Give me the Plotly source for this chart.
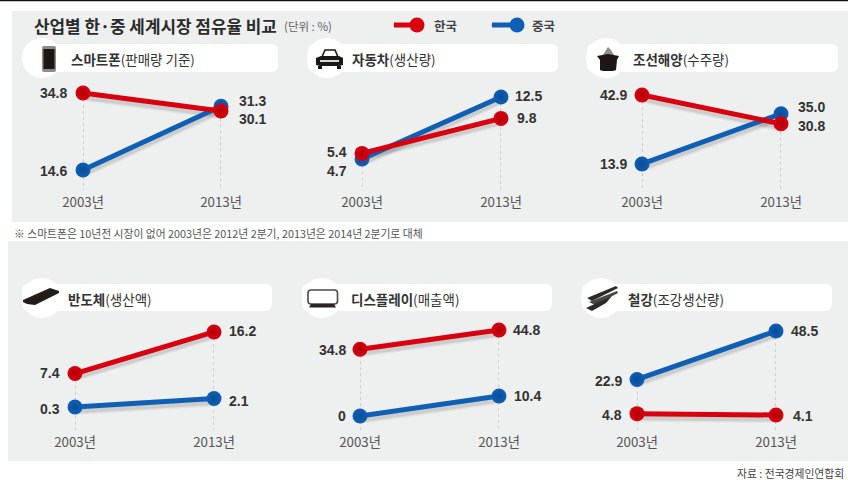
import plotly.graph_objects as go

W, H = 848, 480
FONT = "Noto Sans CJK KR"
LABEL_FONT = "Liberation Sans"
RED, BLUE = "#d9000f", "#0f5fb5"
RED_EDGE, BLUE_EDGE = "#b00008", "#0a4c98"

# ---------- data ----------
years = ["2003년", "2013년"]
panel_titles = ["스마트폰", "자동차", "조선해양", "반도체", "디스플레이", "철강"]
panel_notes = ["(판매량 기준)", "(생산량)", "(수주량)", "(생산액)", "(매출액)", "(조강생산량)"]
korea = [[34.8, 30.1], [5.4, 9.8], [42.9, 30.8], [7.4, 16.2], [34.8, 44.8], [4.8, 4.1]]
china = [[14.6, 31.3], [4.7, 12.5], [13.9, 35.0], [0.3, 2.1], [0.0, 10.4], [22.9, 48.5]]
korea_labels = [["34.8", "30.1"], ["5.4", "9.8"], ["42.9", "30.8"], ["7.4", "16.2"], ["34.8", "44.8"], ["4.8", "4.1"]]
china_labels = [["14.6", "31.3"], ["4.7", "12.5"], ["13.9", "35.0"], ["0.3", "2.1"], ["0", "10.4"], ["22.9", "48.5"]]

# ---------- layout constants ----------
x_px = [(83, 221), (362, 501), (642, 781), (75, 214), (360, 499), (637, 776)]
y_px = [(85, 190)] * 3 + [(325, 430)] * 3
y_ranges = [(9.34, 36.9), (0.80, 14.0), (2.98, 47.1), (-4.57, 17.67), (-7.29, 47.4), (-3.84, 51.7)]
# label offsets (dx, dy) from the point for [korea 2003, korea 2013], [china 2003, china 2013]
korea_off = [[(-14, 0), (16, 8)], [(-13, -1), (14, 0)], [(-13, 0), (15, 2)], [(-13, 0), (13, -1)], [(-12, 1), (12, 0)], [(-13, 1), (15, 1)]]
china_off = [[(-14, 1), (16, -5)], [(-13, 12), (12, -1)], [(-13, 0), (15, -7)], [(-13, 2), (13, 2)], [(-12, 0), (13, 0)], [(-13, 2), (13, 0)]]
pills = [(28, 278, 44, 72), (308, 558, 44, 72), (587, 838, 44, 72), (22, 272, 284, 311), (302, 552, 284, 311), (582, 832, 284, 311)]
circles = [(42, 58), (327, 58), (606, 58), (42, 298), (322, 298), (601, 298)]
title_x = [69, 350, 631, 66, 349, 626]


def px(x):
    return x / W


def py(y):
    return 1 - y / H


def path(points, close=True):
    s = "M" + " L".join(f"{px(a):.5f},{py(b):.5f}" for a, b in points)
    return s + (" Z" if close else "")


def rrect(x0, x1, y0, y1, r):
    p = lambda a, b: f"{px(a):.5f},{py(b):.5f}"
    return (f"M{p(x0 + r, y0)} L{p(x1 - r, y0)} Q{p(x1, y0)} {p(x1, y0 + r)} L{p(x1, y1 - r)} "
            f"Q{p(x1, y1)} {p(x1 - r, y1)} L{p(x0 + r, y1)} Q{p(x0, y1)} {p(x0, y1 - r)} "
            f"L{p(x0, y0 + r)} Q{p(x0, y0)} {p(x0 + r, y0)} Z")


shapes = []


def rect(x0, y0, x1, y1, color):
    shapes.append(dict(type="rect", xref="paper", yref="paper", x0=px(x0), x1=px(x1), y0=py(y0), y1=py(y1),
                       fillcolor=color, line_width=0, layer="below"))


def poly(d, fill, line=None, lw=0):
    shapes.append(dict(type="path", xref="paper", yref="paper", path=d, fillcolor=fill,
                       line=dict(color=line or fill, width=lw), layer="below"))


rect(0, 0, 848, 1.2, "#111111")
rect(12, 11, 848, 222, "#eeefef")
rect(8, 241, 848, 461, "#eeefef")

for (a, b, c, d) in pills:
    poly(rrect(a, b, c, d, 7), "#ffffff")
for (cx, cy) in circles:
    shapes.append(dict(type="circle", xref="paper", yref="paper", x0=px(cx - 20), x1=px(cx + 20),
                       y0=py(cy - 20), y1=py(cy + 20), fillcolor="#ffffff", line_width=0, layer="below"))

DARK = "#1c1715"
# phone
poly(rrect(42, 56, 46, 72, 2), "#8d8a88")
poly(path([(43.5, 49), (54.5, 49), (54.5, 69), (43.5, 69)]), DARK)
# car
poly(path([(322, 57), (325, 50), (335, 50), (338, 57)], close=False), "rgba(0,0,0,0)", DARK, 1.6)
poly(path([(316, 58), (321, 56), (339, 56), (343, 58), (343, 65), (339, 66), (320, 66), (316, 65)]), DARK)
poly(path([(318, 66), (322, 66), (322, 69), (318, 69)]), DARK)
poly(path([(337, 66), (341, 66), (341, 69), (337, 69)]), DARK)
poly(path([(320, 60), (339, 60), (339, 62), (320, 62)]), "#d8d8d8")
# ship
poly(path([(603, 55), (606, 50), (608, 47), (611, 50), (614, 55)]), "#8f8c8a")
poly(path([(597, 56), (608, 54), (619, 56), (617, 60), (616, 70), (613, 71), (603, 71), (600, 70), (600, 60)]), DARK)
# chip
poly(path([(23, 300), (50, 288), (59, 291), (59, 293), (35, 305), (27, 304), (23, 302)]), "#231c19")
# display
poly(rrect(308, 337.5, 290, 304, 3), "#ffffff", "#4a4a4a", 1.6)
poly(path([(311, 304), (334, 304), (336, 307.5), (309, 307.5)]), "#2a2523")
# steel
poly(path([(587, 298), (616, 286), (618, 288), (592, 301)]), "#2e2927")
poly(path([(589, 302), (617, 291), (618, 293), (595, 305)]), "#4a4644")
poly(path([(586, 308), (612, 296), (606, 303), (592, 311)]), "#2e2927")

annotations = []


def text(x, y, s, size, color="#333333", anchor="left", family=FONT):
    annotations.append(dict(xref="paper", yref="paper", x=px(x), y=py(y), text=s, showarrow=False,
                            xanchor=anchor, yanchor="middle", font=dict(family=family, size=size, color=color)))


text(32, 25, "<b>산업별 한·중 세계시장 점유율 비교</b>", 16.9, "#2b2b2b")
text(282, 26, "(단위 : %)", 11.5, "#666666")
text(432, 25, "<b>한국</b>", 12.5, "#444444")
text(530, 25, "<b>중국</b>", 12.5, "#444444")
text(12, 233, "※ 스마트폰은 10년전 시장이 없어 2003년은 2012년 2분기, 2013년은 2014년 2분기로 대체", 10.8, "#555555")
text(846, 473, "자료 : 전국경제인연합회", 10.8, "#444444", "right")
for i in range(6):
    text(title_x[i], circles[i][1] + 1, f"<b>{panel_titles[i]}</b>{panel_notes[i]}", 13.5, "#333333")

fig = go.Figure()
layout_axes = {}


def add_axes(n, xdom, ydom, xr, yr, visible, tick=False):
    xa = dict(domain=[px(xdom[0]), px(xdom[1])], range=xr, anchor=f"y{n}", fixedrange=True, visible=visible,
              type="category", categoryorder="array", categoryarray=years, showgrid=False, zeroline=False,
              showline=False, ticks="", ticklabelstandoff=3,
              tickfont=dict(family=FONT, size=13.3, color="#555555"))
    ya = dict(domain=[py(ydom[1]), py(ydom[0])], range=yr, anchor=f"x{n}", fixedrange=True, visible=False)
    layout_axes["xaxis" if n == 1 else f"xaxis{n}"] = xa
    layout_axes["yaxis" if n == 1 else f"yaxis{n}"] = ya


SHADOW_DY = 4
for i in range(6):
    add_axes(i + 1, x_px[i], (y_px[i][0] + SHADOW_DY, y_px[i][1] + SHADOW_DY), [0, 1], y_ranges[i], False)
    add_axes(i + 7, x_px[i], y_px[i], [0, 1], y_ranges[i], True)

# shadows (lower subplots are painted first)
for i in range(6):
    for vals in (china[i], korea[i]):
        for w, a in ((8, 0.05), (5, 0.09)):
            fig.add_trace(go.Scatter(x=years, y=vals, mode="lines", xaxis=f"x{i + 1}", yaxis=f"y{i + 1}",
                                     line=dict(color=f"rgba(0,0,0,{a})", width=w), cliponaxis=False,
                                     showlegend=False, hoverinfo="skip"))

# main panels
for i in range(6):
    xa, ya = f"x{i + 7}", f"y{i + 7}"
    bottom = y_ranges[i][0]
    for j, yr in enumerate(years):
        top = max(korea[i][j], china[i][j])
        fig.add_trace(go.Scatter(x=[yr, yr], y=[top, bottom], mode="lines", xaxis=xa, yaxis=ya,
                                 line=dict(color="#aaaaaa", width=1, dash="dot"), cliponaxis=False,
                                 showlegend=False, hoverinfo="skip"))
    series = [("중국", china[i], BLUE, BLUE_EDGE), ("한국", korea[i], RED, RED_EDGE)]
    for name, vals, c, edge in series:
        fig.add_trace(go.Scatter(x=years, y=vals, mode="lines+markers", name=name, xaxis=xa, yaxis=ya,
                                 line=dict(color=c, width=5), cliponaxis=False, showlegend=False,
                                 marker=dict(size=15, color=c, line_width=0,
                                             gradient=dict(type="radial", color=edge))))
    for vals, labs, offs in ((korea[i], korea_labels[i], korea_off[i]), (china[i], china_labels[i], china_off[i])):
        for j in range(2):
            dx, dy = offs[j]
            annotations.append(dict(xref=xa, yref=ya, x=years[j], y=vals[j], text=f"<b>{labs[j]}</b>", showarrow=False,
                                    xanchor="right" if j == 0 else "left", yanchor="middle",
                                    xshift=dx, yshift=-dy,
                                    font=dict(family=LABEL_FONT, size=14, color="#333333")))

# legend keys, on a hidden pixel-scaled axes
layout_axes["xaxis13"] = dict(domain=[0, 1], range=[0, W], anchor="y13", visible=False, fixedrange=True)
layout_axes["yaxis13"] = dict(domain=[0, 1], range=[H, 0], anchor="x13", visible=False, fixedrange=True)
for x0, x1, c, name in ((394, 417, RED, "한국"), (492, 517, BLUE, "중국")):
    fig.add_trace(go.Scatter(x=[x0, x1], y=[25, 25], mode="lines+markers", xaxis="x13", yaxis="y13", name=name,
                             line=dict(color=c, width=5), showlegend=False, hoverinfo="skip",
                             marker=dict(size=[1, 15], color=c, line_width=0, opacity=1)))

fig.update_layout(width=W, height=H, autosize=False,
                  margin=dict(l=0, r=0, t=0, b=0, pad=0, autoexpand=False),
                  paper_bgcolor="#ffffff", plot_bgcolor="rgba(0,0,0,0)", showlegend=False,
                  shapes=shapes, annotations=annotations, font=dict(family=FONT), **layout_axes)
fig.write_html("out.html", config=dict(displayModeBar=False),
               post_script="document.body.style.margin='0';document.documentElement.style.overflow='hidden';")
